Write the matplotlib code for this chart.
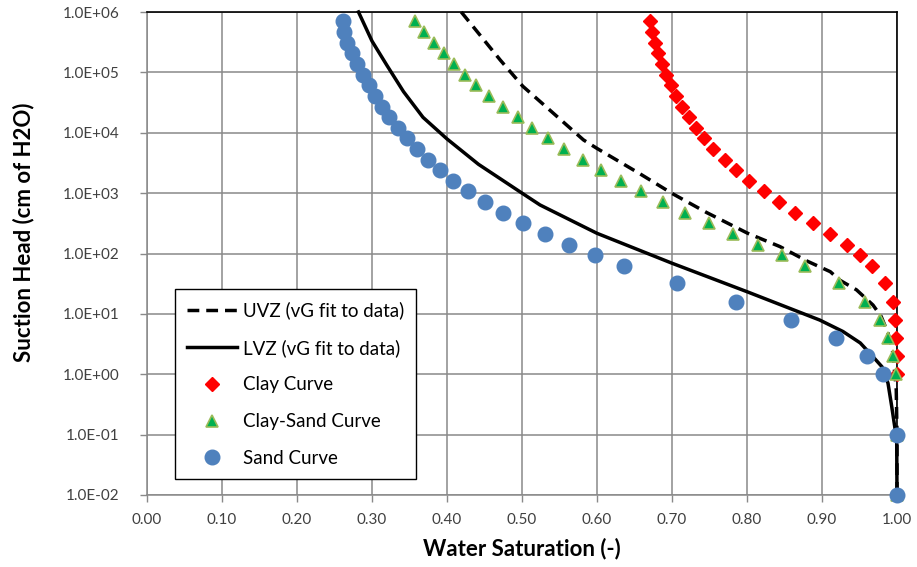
import math
import matplotlib
matplotlib.use("Agg")
import matplotlib.pyplot as plt
from matplotlib.ticker import FixedLocator, FuncFormatter, NullLocator

plt.rcParams['font.family'] = ['Lato', 'DejaVu Sans']

# Suction head (cm of H2O) shared by the three laboratory curves
head = [7.0e5, 4.7e5, 3.1e5, 2.1e5, 1.4e5, 9.2e4, 6.2e4, 4.1e4, 2.7e4, 1.8e4,
        1.2e4, 8.1e3, 5.4e3, 3.6e3, 2.4e3, 1.6e3, 1.07e3, 710, 470, 316,
        210, 140, 94, 62, 32, 16, 8, 4, 2, 1, 0.1, 0.01]

clay_sat = [0.670, 0.673, 0.677, 0.681, 0.687, 0.692, 0.698, 0.705, 0.713, 0.722,
            0.732, 0.743, 0.755, 0.771, 0.785, 0.802, 0.822, 0.842, 0.864, 0.888,
            0.910, 0.933, 0.951, 0.966, 0.984, 0.994, 0.997, 0.999, 1.0, 1.0, 1.0, 1.0]

clay_sand_sat = [0.357, 0.369, 0.382, 0.396, 0.409, 0.424, 0.439, 0.456, 0.474, 0.494,
                 0.513, 0.534, 0.556, 0.581, 0.605, 0.632, 0.658, 0.688, 0.717, 0.749,
                 0.781, 0.815, 0.846, 0.877, 0.923, 0.957, 0.977, 0.988, 0.995, 0.998, 1.0, 1.0]

sand_sat = [0.261, 0.263, 0.267, 0.273, 0.280, 0.288, 0.296, 0.304, 0.313, 0.323,
            0.334, 0.346, 0.360, 0.374, 0.391, 0.408, 0.428, 0.451, 0.475, 0.501,
            0.531, 0.562, 0.597, 0.636, 0.707, 0.785, 0.858, 0.919, 0.960, 0.981, 1.0, 1.0]

# van Genuchten fits
uvz_sat = [0.419, 0.471, 0.501, 0.535, 0.582, 0.600, 0.657, 0.700, 0.746, 0.801,
           0.844, 0.880, 0.911, 0.924, 0.946, 0.968, 0.979, 0.988, 0.994, 0.997,
           0.999, 1.0, 1.0]
uvz_head = [1e6, 1.6e5, 5.9e4, 2.5e4, 7.6e3, 5.5e3, 2.1e3, 990, 478, 216,
            130, 75, 50, 36, 25, 14, 9, 4.8, 2.5, 1.04,
            0.55, 0.1, 0.01]

lvz_sat = [0.282, 0.300, 0.320, 0.342, 0.368, 0.400, 0.442, 0.500, 0.524, 0.600,
           0.700, 0.800, 0.897, 0.928, 0.951, 0.968, 0.980, 0.988, 0.993, 0.997,
           0.9996, 1.0]
lvz_head = [1e6, 3.3e5, 1.3e5, 4.8e4, 1.8e4, 7.9e3, 3.0e3, 1.0e3, 637, 216,
            69, 23.3, 7.9, 5.1, 3.3, 1.95, 1.33, 0.71, 0.29, 0.135,
            0.08, 0.01]

x_ticks = [0.0, 0.1, 0.2, 0.3, 0.4, 0.5, 0.6, 0.7, 0.8, 0.9, 1.0]
y_ticks = [1e-2, 1e-1, 1e0, 1e1, 1e2, 1e3, 1e4, 1e5, 1e6]

fig = plt.figure(figsize=(9.17, 5.67), dpi=100)
ax = fig.add_axes([147 / 917, 1 - 495 / 567, 750 / 917, 483 / 567])

grid_col = '#898989'
ax.set_yscale('log')
ax.set_xlim(0, 1.0)
ax.set_ylim(1e-2, 1e6)

ax.plot(uvz_sat, uvz_head, color='black', lw=2.5, dashes=(3.4, 2.0),
        label='UVZ (vG fit to data)', zorder=3, clip_on=False)
ax.plot(lvz_sat, lvz_head, color='black', lw=2.5,
        label='LVZ (vG fit to data)', zorder=3, clip_on=False)
ax.plot(clay_sat, head, ls='none', marker='D', ms=7, color='#FF0000',
        mec='#FF0000', label='Clay Curve', zorder=4, clip_on=False)
ax.plot(clay_sand_sat, head, ls='none', marker='^', ms=9, color='#00B050',
        mec='#9BBB59', mew=1.2, label='Clay-Sand Curve', zorder=5, clip_on=False)
ax.plot(sand_sat, head, ls='none', marker='o', ms=10.5, color='#4F81BD',
        mec='#4F81BD', label='Sand Curve', zorder=6, clip_on=False)

ax.xaxis.set_major_locator(FixedLocator(x_ticks))
ax.yaxis.set_major_locator(FixedLocator(y_ticks))
ax.yaxis.set_minor_locator(NullLocator())
ax.xaxis.set_major_formatter(FuncFormatter(lambda v, p: f"{v:.2f}"))


def sci_fmt(v, p):
    exp = int(round(math.log10(v)))
    sign = '+' if exp >= 0 else '-'
    return f"1.0E{sign}{abs(exp):02d}"


ax.yaxis.set_major_formatter(FuncFormatter(sci_fmt))
ax.grid(True, which='major', color=grid_col, lw=1.1, zorder=0)
ax.set_axisbelow(True)

ax.tick_params(axis='both', direction='out', length=5, width=1, color=grid_col,
               labelsize=11, labelcolor='#404040')
ax.tick_params(axis='x', pad=8)
ax.tick_params(axis='y', pad=15)

for side in ('top', 'right'):
    ax.spines[side].set_color('black')
    ax.spines[side].set_linewidth(1.2)
for side in ('left', 'bottom'):
    ax.spines[side].set_color(grid_col)
    ax.spines[side].set_linewidth(1.1)

fig.text(522 / 917, 1 - 549 / 567, 'Water Saturation (-)', ha='center',
         va='center', fontsize=16, fontweight='bold')
fig.text(24 / 917, 1 - 232 / 567, 'Suction Head (cm of H2O)', ha='center',
         va='center', rotation=90, fontsize=16, fontweight='bold')

leg = ax.legend(loc='upper left', bbox_to_anchor=((175 - 147) / 750, (495 - 289) / 483),
                fontsize=13.5, frameon=True, fancybox=False, edgecolor='black',
                framealpha=1, handlelength=2.67, handletextpad=0.3,
                labelspacing=1.05, borderpad=0.65, borderaxespad=0)
leg.get_frame().set_linewidth(1.0)
leg.set_zorder(10)

fig.savefig('out.png', dpi=100, facecolor='white')
